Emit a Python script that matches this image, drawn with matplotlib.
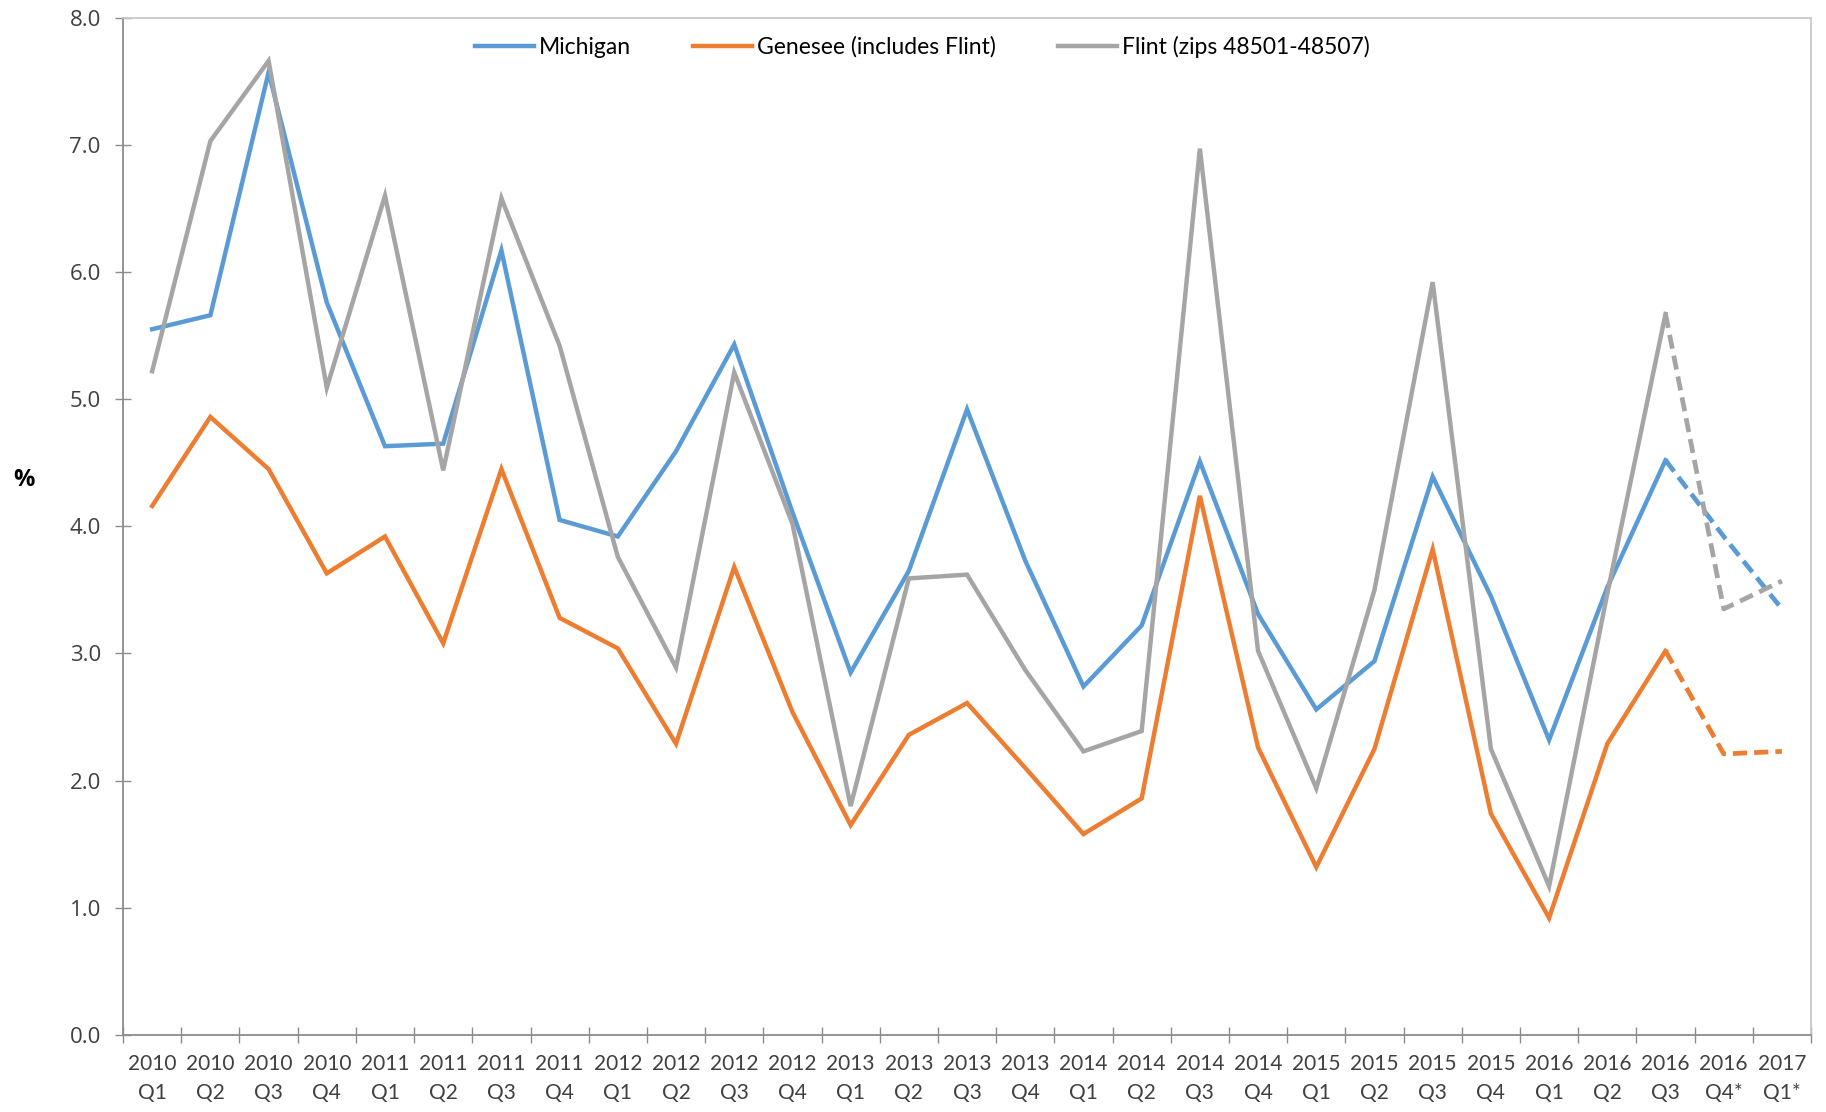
import numpy as np
import matplotlib
matplotlib.use("Agg")
import matplotlib.pyplot as plt

# quarters 2010 Q1 .. 2017 Q1 (last two are projections, marked *)
years = ["2010"] * 4 + ["2011"] * 4 + ["2012"] * 4 + ["2013"] * 4 + \
        ["2014"] * 4 + ["2015"] * 4 + ["2016"] * 4 + ["2017"]
quarters = ["Q1", "Q2", "Q3", "Q4"] * 7 + ["Q1*"]
quarters[27] = "Q4*"
labels = [y + "\n" + q for y, q in zip(years, quarters)]

michigan = [5.55, 5.66, 7.57, 5.76, 4.63, 4.65, 6.17, 4.05, 3.92, 4.59,
            5.43, 4.11, 2.85, 3.65, 4.92, 3.73, 2.74, 3.22, 4.51, 3.31,
            2.56, 2.94, 4.39, 3.45, 2.32, 3.52, 4.52, 3.92, 3.35]
genesee = [4.16, 4.86, 4.45, 3.63, 3.92, 3.08, 4.45, 3.28, 3.04, 2.29,
           3.68, 2.54, 1.65, 2.36, 2.61, 2.10, 1.58, 1.86, 4.24, 2.26,
           1.32, 2.25, 3.82, 1.74, 0.92, 2.29, 3.02, 2.21, 2.23]
flint = [5.22, 7.03, 7.66, 5.09, 6.60, 4.44, 6.58, 5.42, 3.76, 2.89,
         5.21, 4.02, 1.80, 3.59, 3.62, 2.87, 2.23, 2.39, 6.97, 3.02,
         1.94, 3.50, 5.92, 2.25, 1.17, 3.47, 5.67, 3.35, 3.57]

series = [("Michigan", michigan, "#5B9BD5"),
          ("Genesee (includes Flint)", genesee, "#ED7D31"),
          ("Flint (zips 48501-48507)", flint, "#A5A5A5")]

split = 26  # last actual quarter (2016 Q3)

fig = plt.figure(figsize=(18.26, 11.12), dpi=100)
ax = fig.add_axes([0.0674, 0.0693, 0.9244, 0.9148])

x = np.arange(len(labels))
for name, vals, col in series:
    ax.plot(x[:split + 1], vals[:split + 1], color=col, lw=3.2, label=name,
            solid_joinstyle="miter")
    ax.plot(x[split:], vals[split:], color=col, lw=3.4, ls=(0, (3, 1.5)))

ax.set_xlim(-0.5, len(labels) - 0.5)
ax.set_ylim(0, 8)
ax.set_yticks(np.arange(0, 8.01, 1.0))
ax.set_yticklabels([f"{v:.1f}" for v in np.arange(0, 8.01, 1.0)],
                   fontsize=16, family="Open Sans", color="#404040")
ax.set_xticks(x)
ax.set_xticklabels(labels, fontsize=15, family="Lato", color="#404040",
                   linespacing=1.55)
ax.set_xticks(np.arange(-0.5, len(labels), 1.0), minor=True)
ax.tick_params(axis="x", which="major", length=0, pad=14)
ax.tick_params(axis="x", which="minor", direction="inout", length=12,
               color="#8C8C8C", width=1)
ax.tick_params(axis="y", direction="inout", length=12, color="#8C8C8C",
               width=1, pad=10)

for s in ["left", "bottom"]:
    ax.spines[s].set_color("#8C8C8C")
    ax.spines[s].set_linewidth(1.3)
for s in ["top", "right"]:
    ax.spines[s].set_color("#C8C8C8")
    ax.spines[s].set_linewidth(1.3)

fig.text(0.013, 0.568, "%", fontsize=17, fontweight="bold",
         family="Open Sans", ha="center", va="center")

ax.legend(loc="center", bbox_to_anchor=(0.505, 0.958),
          bbox_transform=fig.transFigure, ncol=3, frameon=False,
          prop={"family": "Lato", "size": 16.5}, handlelength=2.6,
          handletextpad=0.2, columnspacing=2.7)

fig.savefig("out.png", dpi=100)
